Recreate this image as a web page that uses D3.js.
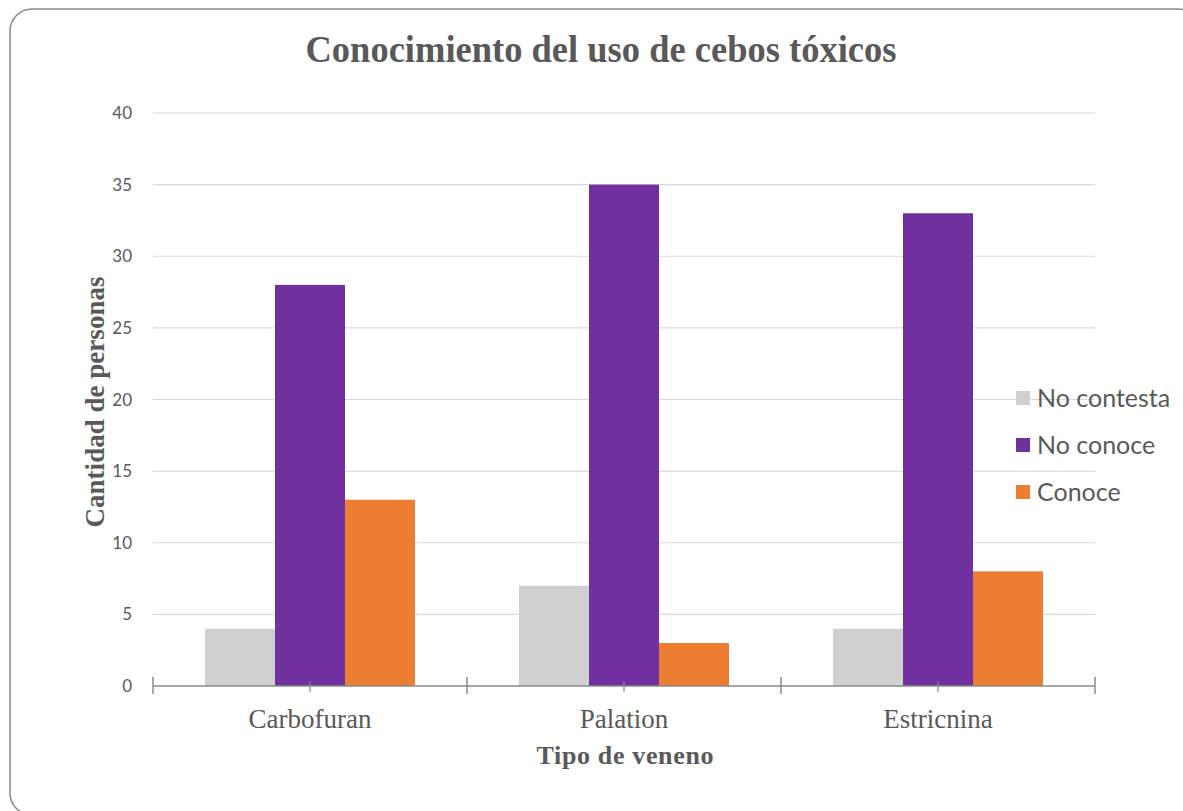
<!DOCTYPE html>
<html>
<head>
<meta charset="utf-8">
<script src="https://cdn.jsdelivr.net/npm/d3@7"></script>
<style>
  html, body { margin: 0; padding: 0; background: #fff; overflow: hidden; }
  svg { display: block; }
</style>
</head>
<body>
<svg id="chart" width="1183" height="811"></svg>
<script>
// Chart data
const categories = ["Carbofuran", "Palation", "Estricnina"];
const seriesNames = ["No contesta", "No conoce", "Conoce"];
const noContesta = [4, 7, 4];
const noConoce = [28, 35, 33];
const conoce = [13, 3, 8];
const yTicks = [0, 5, 10, 15, 20, 25, 30, 35, 40];

const seriesValues = [noContesta, noConoce, conoce];
const colors = ["#d0d0d0", "#7030a0", "#ed7d31"];

const serif = "'Liberation Serif', 'Times New Roman', serif";
const sans = "Lato, 'Open Sans', sans-serif";
const textColor = "#595959";

const svg = d3.select("#chart");

// Outer rounded frame
svg.append("rect")
  .attr("x", 10).attr("y", 9)
  .attr("width", 1190).attr("height", 806)
  .attr("rx", 22).attr("ry", 22)
  .attr("fill", "#fff")
  .attr("stroke", "#8a8a8a")
  .attr("stroke-width", 1.5);

const plotLeft = 153, plotRight = 1095, plotTop = 113, plotBottom = 686;

const y = d3.scaleLinear().domain([0, 40]).range([plotBottom, plotTop]);
const x0 = d3.scaleBand().domain(categories).range([plotLeft, plotRight]).padding(0);
const x1 = d3.scaleBand().domain(seriesNames).range([0, x0.bandwidth()])
  .paddingInner(0).paddingOuter(0.743);

// Horizontal gridlines
svg.append("g")
  .selectAll("line")
  .data(yTicks.filter(d => d > 0))
  .join("line")
  .attr("x1", plotLeft).attr("x2", plotRight)
  .attr("y1", d => y(d)).attr("y2", d => y(d))
  .attr("stroke", "#d9d9d9").attr("stroke-width", 1.2);

// Y tick labels
svg.append("g")
  .selectAll("text")
  .data(yTicks)
  .join("text")
  .attr("x", 132)
  .attr("y", d => y(d))
  .attr("dy", "0.36em")
  .attr("text-anchor", "end")
  .attr("font-family", sans)
  .attr("font-size", 17)
  .attr("fill", textColor)
  .text(d => d);

// Bars
const rows = categories.map((c, i) => ({ cat: c, vals: seriesNames.map((s, j) => ({ s, v: seriesValues[j][i], j })) }));
svg.append("g")
  .selectAll("g")
  .data(rows)
  .join("g")
  .attr("transform", d => `translate(${x0(d.cat)},0)`)
  .selectAll("rect")
  .data(d => d.vals)
  .join("rect")
  .attr("x", d => x1(d.s))
  .attr("width", x1.bandwidth())
  .attr("y", d => y(d.v))
  .attr("height", d => y(0) - y(d.v))
  .attr("fill", d => colors[d.j]);

// X axis line and ticks
const axisG = svg.append("g");
axisG.append("line")
  .attr("x1", plotLeft).attr("x2", plotRight)
  .attr("y1", plotBottom).attr("y2", plotBottom)
  .attr("stroke", "#8a8a8a").attr("stroke-width", 1.5);
const boundaries = categories.map(c => x0(c)).concat([x0(categories[categories.length - 1]) + x0.bandwidth()]);
axisG.selectAll("line.b")
  .data(boundaries)
  .join("line")
  .attr("class", "b")
  .attr("x1", d => d).attr("x2", d => d)
  .attr("y1", plotBottom - 9).attr("y2", plotBottom + 8)
  .attr("stroke", "#8a8a8a").attr("stroke-width", 1.5);
axisG.selectAll("line.c")
  .data(categories)
  .join("line")
  .attr("class", "c")
  .attr("x1", d => x0(d) + x0.bandwidth() / 2).attr("x2", d => x0(d) + x0.bandwidth() / 2)
  .attr("y1", plotBottom - 5).attr("y2", plotBottom + 6)
  .attr("stroke", "#8a8a8a").attr("stroke-width", 1.2);

// Category labels
svg.append("g")
  .selectAll("text")
  .data(categories)
  .join("text")
  .attr("x", d => x0(d) + x0.bandwidth() / 2)
  .attr("y", 728)
  .attr("text-anchor", "middle")
  .attr("font-family", serif)
  .attr("font-size", 27)
  .attr("fill", textColor)
  .text(d => d);

// Title
svg.append("text")
  .attr("x", 601).attr("y", 62)
  .attr("text-anchor", "middle")
  .attr("font-family", serif)
  .attr("font-weight", "bold")
  .attr("font-size", 38)
  .attr("textLength", 591)
  .attr("lengthAdjust", "spacingAndGlyphs")
  .attr("fill", textColor)
  .text("Conocimiento del uso de cebos tóxicos");

// Axis titles
svg.append("text")
  .attr("x", 625).attr("y", 764)
  .attr("text-anchor", "middle")
  .attr("font-family", serif)
  .attr("font-weight", "bold")
  .attr("font-size", 26)
  .attr("textLength", 177)
  .attr("fill", textColor)
  .text("Tipo de veneno");

svg.append("text")
  .attr("transform", "translate(104,402) rotate(-90)")
  .attr("text-anchor", "middle")
  .attr("font-family", serif)
  .attr("font-weight", "bold")
  .attr("font-size", 27)
  .attr("textLength", 251)
  .attr("fill", textColor)
  .text("Cantidad de personas");

// Legend
const legend = svg.append("g")
  .selectAll("g")
  .data(seriesNames)
  .join("g")
  .attr("transform", (d, i) => `translate(1016, ${398 + i * 47})`);
legend.append("rect")
  .attr("x", 0).attr("y", -7)
  .attr("width", 14).attr("height", 14)
  .attr("fill", (d, i) => colors[i]);
legend.append("text")
  .attr("x", 21).attr("y", 0)
  .attr("dy", "0.36em")
  .attr("font-family", sans)
  .attr("font-size", 25)
  .attr("fill", textColor)
  .text(d => d);
</script>
</body>
</html>
